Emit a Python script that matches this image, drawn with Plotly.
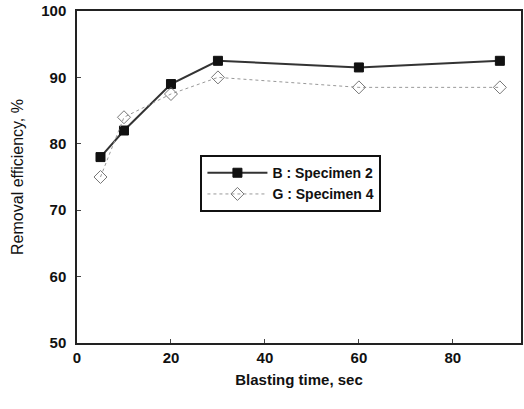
import plotly.graph_objects as go

time_s = [5, 10, 20, 30, 60, 90]
specimen2 = [78, 82, 89, 92.5, 91.5, 92.5]
specimen4 = [75, 84, 87.5, 90, 88.5, 88.5]
x_ticks = [0, 20, 40, 60, 80]
y_ticks = [50, 60, 70, 80, 90, 100]

FONT = "Liberation Sans, Arial, sans-serif"

fig = go.Figure()
fig.add_trace(go.Scatter(
    x=time_s, y=specimen2, mode="lines+markers", name="B : Specimen 2",
    line=dict(color="#333333", width=2),
    marker=dict(symbol="square", size=9, color="#111111", line=dict(color="#111111", width=1)),
))
fig.add_trace(go.Scatter(
    x=time_s, y=specimen4, mode="lines+markers", name="G : Specimen 4",
    line=dict(color="#999999", width=1, dash="dot"),
    marker=dict(symbol="diamond-open", size=10, color="#777777", line=dict(width=1)),
))

fig.update_layout(
    width=524, height=409,
    margin=dict(l=77, r=3, t=11, b=66),
    paper_bgcolor="white", plot_bgcolor="white",
    font=dict(family=FONT, color="#111111"),
    showlegend=True,
    legend=dict(
        x=0.278, y=0.48, xanchor="left", yanchor="middle",
        bgcolor="white", bordercolor="#111111", borderwidth=2,
        font=dict(size=14, family=FONT, weight="bold"),
        itemwidth=60, tracegroupgap=0,
    ),
    xaxis=dict(
        range=[0, 94.5], tickvals=x_ticks, ticks="inside", ticklen=4,
        showgrid=False, zeroline=False, showline=True, linecolor="#222222", linewidth=1.5,
        mirror=True, automargin=False,
        tickfont=dict(size=15, family=FONT, weight="bold"),
        title=dict(text="Blasting time, sec", font=dict(size=15, weight="bold"), standoff=10),
    ),
    yaxis=dict(
        range=[50, 100], tickvals=y_ticks, ticks="inside", ticklen=4,
        showgrid=False, zeroline=False, showline=True, linecolor="#222222", linewidth=1.5,
        mirror=True, automargin=False, ticklabelstandoff=6,
        tickfont=dict(size=15, family=FONT, weight="bold"),
        title=dict(text="Removal efficiency, %", font=dict(size=16), standoff=14),
    ),
)

fig.write_html("out.html", config={"displayModeBar": False},
               post_script="document.body.style.margin='0';")
